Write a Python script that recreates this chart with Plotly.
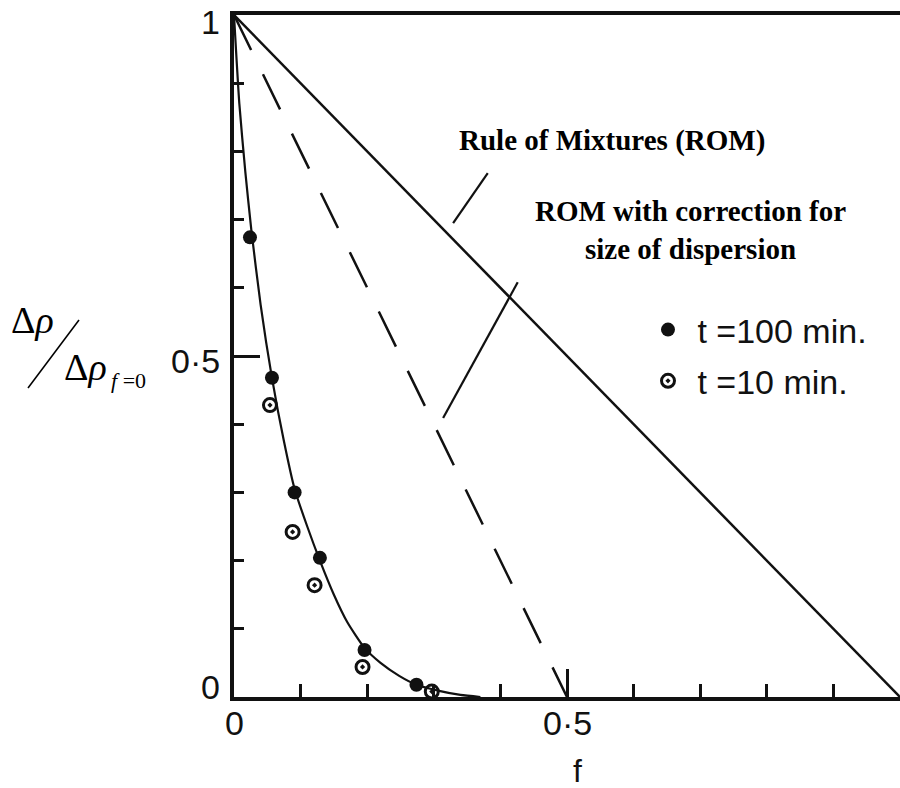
import plotly.graph_objects as go

# ---------------- data ----------------
f_100 = [0.024, 0.057, 0.091, 0.129, 0.196, 0.274]
r_100 = [0.674, 0.468, 0.300, 0.204, 0.069, 0.018]

f_10 = [0.054, 0.088, 0.121, 0.193, 0.297]
r_10 = [0.428, 0.242, 0.164, 0.044, 0.008]

curve_f = [0, 0.008, 0.017, 0.026, 0.04, 0.057, 0.075, 0.091, 0.11, 0.129,
           0.15, 0.17, 0.196, 0.22, 0.248, 0.274, 0.308, 0.34, 0.37]
curve_r = [1, 0.87, 0.77, 0.685, 0.575, 0.468, 0.375, 0.305, 0.25, 0.2,
           0.15, 0.11, 0.072, 0.05, 0.031, 0.018, 0.009, 0.003, 0]

rom_f = [0, 1]
rom_r = [1, 0]

romc_f = [0, 0.5]
romc_r = [1, 0]

x_tick_vals = [0, 0.5]
x_tick_text = ["0", "0·5"]
y_tick_vals = [0, 0.5, 1]
y_tick_text = ["0", "0·5", "1"]

# pointer lines (data coords): [x0, y0, x1, y1]
ptr_rom = [0.381, 0.768, 0.329, 0.695]
ptr_romc = [0.426, 0.608, 0.314, 0.409]

SANS = "Liberation Sans, Arial, sans-serif"
SERIF = "Liberation Serif, Times New Roman, serif"
INK = "#111111"

# plot-area geometry in pixels (used only to convert label positions)
L, R, T, B = 234, 900, 15, 697
def px(xp):
    return (xp - L) / (R - L)
def py(yp):
    return (B - yp) / (B - T)

fig = go.Figure()

fig.add_trace(go.Scatter(x=rom_f, y=rom_r, mode="lines",
                         line=dict(color=INK, width=2.5), showlegend=False,
                         cliponaxis=False))
fig.add_trace(go.Scatter(x=romc_f, y=romc_r, mode="lines",
                         line=dict(color=INK, width=2.5, dash="39px,27px"),
                         showlegend=False))
fig.add_trace(go.Scatter(x=curve_f, y=curve_r, mode="lines",
                         line=dict(color=INK, width=2.2, shape="spline", smoothing=0.6),
                         showlegend=False))
fig.add_trace(go.Scatter(x=f_100, y=r_100, mode="markers", name=" t =100 min.",
                         legendgroup="a",
                         marker=dict(symbol="circle", size=14, color=INK),
                         cliponaxis=False))
fig.add_trace(go.Scatter(x=f_10, y=r_10, mode="markers", name=" t =10 min.",
                         legendgroup="b",
                         marker=dict(symbol="circle-open-dot", size=13, color=INK,
                                     line=dict(width=3, color=INK)),
                         cliponaxis=False))

for p in (ptr_rom, ptr_romc):
    fig.add_shape(type="line", xref="x", yref="y", x0=p[0], y0=p[1], x1=p[2], y1=p[3],
                  line=dict(color=INK, width=2.2))

# text labels
fig.add_annotation(x=px(612), y=py(141), xref="paper", yref="paper",
                   xanchor="center", yanchor="middle",
                   text="<b>Rule of Mixtures (ROM)</b>", showarrow=False,
                   font=dict(family=SERIF, size=29, color="black"))
fig.add_annotation(x=px(690), y=py(230), xref="paper", yref="paper",
                   xanchor="center", yanchor="middle",
                   text="<b>ROM with correction for<br>size of dispersion</b>",
                   showarrow=False, align="center",
                   font=dict(family=SERIF, size=29, color="black"))

# tick labels
for v, t in zip(x_tick_vals, x_tick_text):
    fig.add_annotation(x=v, y=py(723), xref="x", yref="paper", text=t, showarrow=False,
                       xanchor="center", yanchor="middle",
                       font=dict(family=SANS, size=34, color=INK))
y_label_px = {0: 687, 0.5: 361, 1: 22}
for v, t in zip(y_tick_vals, y_tick_text):
    fig.add_annotation(x=px(222), y=py(y_label_px[v]), xref="paper", yref="paper",
                       text=t, showarrow=False, xanchor="right", yanchor="middle",
                       font=dict(family=SANS, size=34, color=INK))

# x axis title
fig.add_annotation(x=px(577), y=py(771), xref="paper", yref="paper", text="f",
                   showarrow=False, xanchor="center", yanchor="middle",
                   font=dict(family=SANS, size=32, color=INK))

# y axis label: Δρ / Δρ_{f=0}
fig.add_annotation(x=px(33), y=py(320), xref="paper", yref="paper",
                   xanchor="center", yanchor="middle",
                   text="Δ<i>ρ</i>", showarrow=False,
                   font=dict(family=SERIF, size=38, color="black"))
fig.add_annotation(x=px(85), y=py(367), xref="paper", yref="paper",
                   xanchor="center", yanchor="middle",
                   text="Δ<i>ρ</i>", showarrow=False,
                   font=dict(family=SERIF, size=38, color="black"))
fig.add_annotation(x=px(128), y=py(380), xref="paper", yref="paper",
                   xanchor="center", yanchor="middle",
                   text="<i>f</i> =0", showarrow=False,
                   font=dict(family=SERIF, size=22, color="black"))
fig.add_shape(type="line", xref="paper", yref="paper",
              x0=px(28), y0=py(388), x1=px(79), y1=py(320),
              line=dict(color="black", width=1.6))

fig.update_xaxes(range=[0, 1], showgrid=False, zeroline=False, automargin=False,
                 showline=True, linecolor=INK, linewidth=4, mirror=True,
                 ticks="inside", ticklen=28, tickwidth=2.5, tickcolor=INK,
                 tickvals=x_tick_vals, showticklabels=False,
                 minor=dict(dtick=0.1, ticks="inside", ticklen=13, tickwidth=2.5, tickcolor=INK))
fig.update_yaxes(range=[0, 1], showgrid=False, zeroline=False, automargin=False,
                 showline=True, linecolor=INK, linewidth=4, mirror=False,
                 ticks="inside", ticklen=26, tickwidth=2.5, tickcolor=INK,
                 tickvals=y_tick_vals, showticklabels=False,
                 minor=dict(dtick=0.1, ticks="inside", ticklen=10, tickwidth=2.5, tickcolor=INK))

fig.update_layout(
    width=900, height=788,
    margin=dict(l=L, r=900 - R, t=T, b=788 - B, autoexpand=False),
    paper_bgcolor="white", plot_bgcolor="white",
    legend=dict(x=px(648), y=py(301), xanchor="left", yanchor="top",
                font=dict(family=SANS, size=34, color=INK), tracegroupgap=4,
                bgcolor="rgba(0,0,0,0)", itemsizing="trace"),
)

fig.write_html(
    "out.html",
    config={"displayModeBar": False},
    post_script="document.body.style.margin='0';document.body.style.overflow='hidden';",
)
